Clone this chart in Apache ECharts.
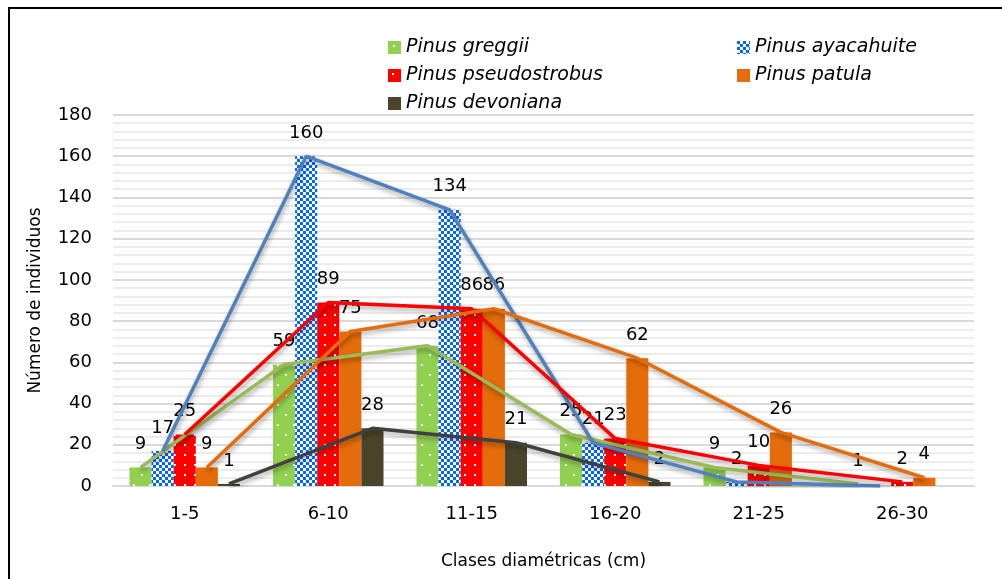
<!DOCTYPE html>
<html>
<head>
<meta charset="utf-8">
<script src="https://cdn.jsdelivr.net/npm/echarts@6/dist/echarts.min.js"></script>
<style>
  html, body { margin: 0; padding: 0; background: #fff; }
  #chart { width: 1002px; height: 579px; }
</style>
</head>
<body>
<div id="chart"></div>
<script>
// Diameter classes and tree counts per pine species
const categories = ['1-5', '6-10', '11-15', '16-20', '21-25', '26-30'];
const speciesNames = ['Pinus greggii', 'Pinus ayacahuite', 'Pinus pseudostrobus', 'Pinus patula', 'Pinus devoniana'];
const greggii = [9, 59, 68, 25, 9, 1];
const ayacahuite = [17, 160, 134, 21, 2, 0];
const pseudostrobus = [25, 89, 86, 23, 10, 2];
const patula = [9, 75, 86, 62, 26, 4];
const devoniana = [1, 28, 21, 2, null, null];
const yTicks = [0, 20, 40, 60, 80, 100, 120, 140, 160, 180];

const FONT = 'DejaVu Sans';
const CAT_GAP = 0.23;            // fraction of each category left empty
const N = speciesNames.length;

function makePattern(w, h, draw) {
  const c = document.createElement('canvas');
  c.width = w; c.height = h;
  draw(c.getContext('2d'));
  return { image: c, repeat: 'repeat' };
}

const fills = [
  // green with sparse white dots
  makePattern(16, 20, ctx => {
    ctx.fillStyle = '#92D050'; ctx.fillRect(0, 0, 16, 20);
    ctx.fillStyle = '#ffffff';
    ctx.fillRect(5, 4, 2, 2); ctx.fillRect(13, 14, 2, 2);
  }),
  // blue checkerboard
  makePattern(6, 6, ctx => {
    ctx.fillStyle = '#ffffff'; ctx.fillRect(0, 0, 6, 6);
    ctx.fillStyle = '#0066FF';
    ctx.fillRect(0, 0, 3, 3); ctx.fillRect(3, 3, 3, 3);
  }),
  // red with white dots
  makePattern(10, 10, ctx => {
    ctx.fillStyle = '#FF0000'; ctx.fillRect(0, 0, 10, 10);
    ctx.fillStyle = '#ffffff';
    ctx.fillRect(4, 4, 2, 2);
  }),
  '#E46C0A',
  '#4A452A'
];
const lineColors = ['#9BBB59', '#4F81BD', '#FF0000', '#E46C0A', '#404040'];
const values = [greggii, ayacahuite, pseudostrobus, patula, devoniana];

// centre of bar s inside a category, in category units
function barOffset(s) {
  const w = (1 - CAT_GAP) / N;
  return -(1 - CAT_GAP) / 2 + w * (s + 0.5);
}

const barSeries = values.map((vals, s) => ({
  name: speciesNames[s],
  type: 'bar',
  xAxisIndex: 0,
  barGap: '0%',
  barCategoryGap: (CAT_GAP * 100) + '%',
  data: vals,
  itemStyle: { color: fills[s] },
  label: {
    show: true,
    position: 'top',
    distance: 14,
    fontFamily: FONT,
    fontSize: 18,
    color: '#000',
    formatter: p => (p.value === 0 || p.value == null) ? '' : String(p.value)
  },
  z: 2
}));

const lineSeries = values.map((vals, s) => ({
  name: speciesNames[s] + ' (línea)',
  type: 'line',
  xAxisIndex: 1,
  data: vals.map((v, i) => v == null ? null : [i + barOffset(s), v]).filter(d => d),
  showSymbol: false,
  symbol: 'none',
  lineStyle: {
    color: lineColors[s],
    width: 3.5,
    shadowColor: 'rgba(0,0,0,0.35)',
    shadowBlur: 5,
    shadowOffsetX: 1,
    shadowOffsetY: 3
  },
  itemStyle: { color: lineColors[s] },
  silent: true,
  z: 3
}));

const legendText = { fontFamily: FONT, fontSize: 19, fontStyle: 'italic', color: '#000' };

const option = {
  animation: false,
  backgroundColor: '#fff',
  textStyle: { fontFamily: FONT },
  graphic: [{
    type: 'rect',
    shape: { x: 9, y: 8, width: 1010, height: 600 },
    style: { fill: 'none', stroke: '#000', lineWidth: 2 },
    silent: true
  }],
  legend: [
    {
      data: [speciesNames[0], speciesNames[2], speciesNames[4]],
      orient: 'vertical', left: 383, top: 33,
      itemWidth: 13, itemHeight: 13, itemGap: 9,
      icon: 'rect', textStyle: legendText, selectedMode: false
    },
    {
      data: [speciesNames[1], speciesNames[3]],
      orient: 'vertical', left: 732, top: 33,
      itemWidth: 13, itemHeight: 13, itemGap: 9,
      icon: 'rect', textStyle: legendText, selectedMode: false
    }
  ],
  grid: { left: 113, right: 28, top: 115, bottom: 93, containLabel: false },
  xAxis: [
    {
      type: 'category',
      data: categories,
      axisLine: { show: true, lineStyle: { color: '#D9D9D9', width: 2 } },
      axisTick: { show: false },
      axisLabel: { fontFamily: FONT, fontSize: 18, color: '#000', margin: 19 },
      name: 'Clases diamétricas (cm)',
      nameLocation: 'middle',
      nameGap: 67,
      nameTextStyle: { fontFamily: FONT, fontSize: 17, color: '#000' }
    },
    {
      type: 'value',
      min: -0.5, max: categories.length - 0.5,
      show: false
    }
  ],
  yAxis: {
    type: 'value',
    min: yTicks[0], max: yTicks[yTicks.length - 1], interval: 20,
    axisLine: { show: false },
    axisTick: { show: false },
    axisLabel: { fontFamily: FONT, fontSize: 18, color: '#000', margin: 21 },
    splitLine: { show: true, lineStyle: { color: '#D9D9D9', width: 2 } },
    minorTick: { show: false, splitNumber: 5 },
    minorSplitLine: { show: true, lineStyle: { color: '#E6E6E6', width: 1.5 } },
    name: 'Número de individuos',
    nameLocation: 'middle',
    nameRotate: 90,
    nameGap: 69,
    nameTextStyle: { fontFamily: FONT, fontSize: 17, color: '#000' }
  },
  series: barSeries.concat(lineSeries)
};

const chart = echarts.init(document.getElementById('chart'), null, { renderer: 'canvas' });
chart.setOption(option);
</script>
</body>
</html>
